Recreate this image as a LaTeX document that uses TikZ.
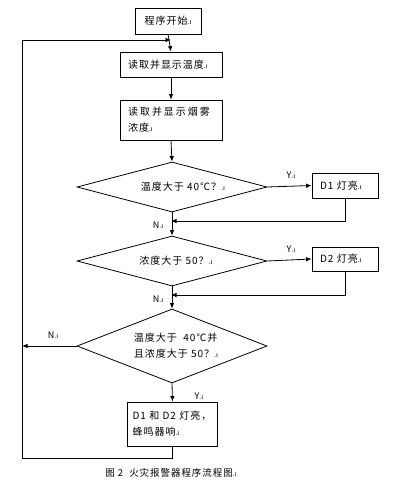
\documentclass[tikz,border=0pt]{standalone}
\usepackage{fontspec}
\setmainfont{Noto Sans CJK SC}[LetterSpace=10]
\newfontfamily\markfont{Liberation Sans}
\usetikzlibrary{shapes.geometric,arrows.meta}
\newcommand\pmk{{\markfont\fontsize{7pt}{7pt}\selectfont .ı}}
\begin{document}
\begin{tikzpicture}[x=1pt,y=-1pt,
  font=\fontsize{10pt}{16pt}\selectfont,
  line width=0.8pt,
  arr/.style={-{Latex[length=5.5pt,width=4.5pt]}},
  proc/.style={draw,inner xsep=8pt,inner ysep=0pt,align=left},
  dec/.style={draw,shape=diamond,inner sep=0pt,minimum width=190pt},
  lbl/.style={inner sep=1pt,font=\fontsize{9pt}{9pt}\selectfont}]
\useasboundingbox (0,0) rectangle (402,488);
\node[proc,minimum width=66pt,minimum height=26pt,align=center,inner xsep=0pt] (start) at (168,21) {程序开始\pmk};
\node[proc,minimum width=102pt,minimum height=25pt,text width=86pt] (rt) at (171,64.5) {读取并显示温度\pmk};
\node[proc,minimum width=102pt,minimum height=40pt,text width=86pt] (rs) at (171,120) {{\addfontfeature{LetterSpace=20}读取并显示烟雾}\\浓度\pmk};
\node[dec,minimum height=50pt] (d1) at (172,187) {};
\node at (183,187) {温度大于 40℃？\pmk};
\node[proc,minimum width=66pt,minimum height=25pt,text width=50pt] (l1) at (345,185.5) {D1 灯亮\pmk};
\node[dec,minimum height=50pt] (d2) at (172,261) {};
\node at (176,261) {浓度大于 50？\pmk};
\node[proc,minimum width=66pt,minimum height=24pt,text width=50pt] (l2) at (345,259) {D2 灯亮\pmk};
\node[dec,minimum height=74pt] (d3) at (172,346) {};
\node[align=left] (t3) at (176,346) {温度大于\ \ 40℃并\\且浓度大于 50？\pmk};
\node[proc,minimum width=90pt,minimum height=44pt,inner xsep=0pt,text width=80pt] (fin) at (172.5,424) {D1 和 D2 灯亮，\\蜂鸣器响\pmk};
\coordinate (j0) at (171,40);
\coordinate (j1) at (171,221);
\coordinate (j2) at (171,295);
\coordinate (lp) at (22,346);
\draw[arr] (start.south) -- (rt.north);
\draw[arr] (rt.south) -- (rs.north);
\draw[arr] (rs.south) -- (d1.north);
\draw[arr] (d1.east) -- (l1.west);
\draw[arr] (l1.south) |- (j1);
\draw[arr] (d1.south) -- (d2.north);
\draw[arr] (d2.east) -- (l2.west);
\draw[arr] (l2.south) |- (j2);
\draw[arr] (d2.south) -- (d3.north);
\draw[arr] (d3.west) -- (lp);
\draw[arr] (d3.south) -- (fin.north);
\draw[arr] (fin.south) -- ++(0,12) -| (22,40) -- (j0);
\node[lbl] at (291,175) {Y\pmk};
\node[lbl] at (291,249) {Y\pmk};
\node[lbl] at (158,225) {N\pmk};
\node[lbl] at (158,299) {N\pmk};
\node[lbl] at (53,335) {N\pmk};
\node[lbl,fill=white,inner xsep=4pt] at (199,396) {Y\pmk};
\node[font=\fontsize{9.5pt}{10pt}\selectfont] (cap) at (171,473) {图 2\ \ 火灾报警器程序流程图\pmk};
\end{tikzpicture}
\end{document}
